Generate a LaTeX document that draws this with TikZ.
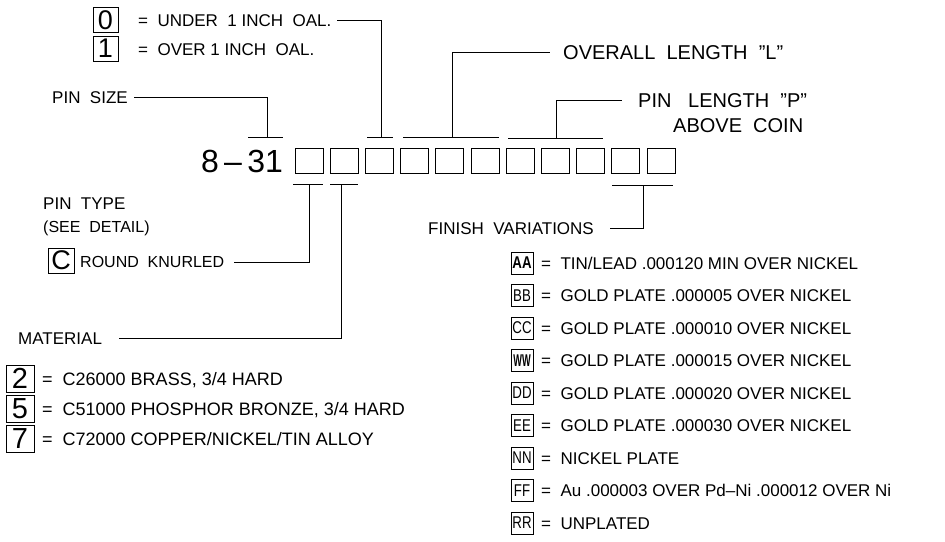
\documentclass[tikz,border=0pt]{standalone}
\usepackage{fontspec}
\setmainfont{Liberation Sans}
\usepackage{graphicx}
\newcommand{\fsz}[1]{\fontsize{#1}{#1}\selectfont}
\newcommand{\fcode}[1]{\scalebox{0.78}[1]{#1}}
\tikzset{
  lbl/.style={inner sep=0pt, anchor=west, text depth=0pt, font=\fsz{17}, text height=12.2pt},
  lblbig/.style={inner sep=0pt, anchor=west, text depth=0pt, font=\fsz{20}, text height=14.3pt},
  lblsm/.style={inner sep=0pt, anchor=west, text depth=0pt, font=\fsz{16}, text height=11.5pt},
  digbox/.style={draw, line width=1pt, minimum width=25pt, minimum height=25pt, inner sep=0pt, font=\fsz{27}},
  matbox/.style={draw, line width=1pt, minimum width=28pt, minimum height=27pt, inner sep=0pt, font=\fsz{29}},
  codebox/.style={draw, line width=1pt, minimum width=28pt, minimum height=25pt, inner sep=0pt},
  finbox/.style={draw, line width=0.9pt, minimum width=22pt, minimum height=22pt, inner sep=0pt, font=\fsz{17}},
  leader/.style={line width=0.8pt},
  bar/.style={line width=0.9pt}
}
\begin{document}
\begin{tikzpicture}[x=1pt,y=-1pt]
\useasboundingbox (0,0) rectangle (945,541);

% part number and code boxes
\node[inner sep=0pt, font=\fsz{32}] (pn) at (242,161.5) {8\,--\,31};
\foreach \i in {1,...,11} \node[codebox] (b\i) at ({309+35.2*(\i-1)},160.5) {};

% OAL legend
\node[digbox] (k0) at (105.5,20) {0};
\node[digbox] (k1) at (105.5,48.5) {1};
\node[lbl] (oal0) at (138,20) {=~~UNDER~~1 INCH~~OAL.};
\node[lbl] (oal1) at (138,49) {=~~OVER 1 INCH~~OAL.};

% pin size
\node[lbl] (psz) at (52,97) {PIN~~SIZE};
\coordinate (psA) at (248,137); \coordinate (psB) at (283,137); \coordinate (psM) at (267,137);
\draw[bar] (psA) -- (psB);
\draw[leader] (psM) |- ([xshift=6pt]psz.east);

% under/over leader
\coordinate (uA) at (367,137); \coordinate (uB) at (393,137); \coordinate (uM) at (381,137);
\draw[bar] (uA) -- (uB);
\draw[leader] (uM) |- ([xshift=5pt]oal0.east);

% overall length
\node[lblbig] (ol) at (563,52) {OVERALL~~LENGTH~~"L"};
\coordinate (oA) at (403,137); \coordinate (oB) at (499,137); \coordinate (oM) at (452,137);
\draw[bar] (oA) -- (oB);
\draw[leader] (oM) |- ([xshift=-13pt]ol.west);

% pin length
\node[lblbig] (pl) at (638,100) {PIN~~~LENGTH~~"P"};
\node[lblbig] (ac) at (673,125) {ABOVE~~COIN};
\coordinate (pA) at (508,138); \coordinate (pB) at (603,138); \coordinate (pM) at (556,138);
\draw[bar] (pA) -- (pB);
\draw[leader] (pM) |- ([xshift=-16pt]pl.west);

% pin type
\node[lbl] (pt) at (43,203) {PIN~~TYPE};
\node[lblsm] (sd) at (43,227) {(SEE~~DETAIL)};
\node[digbox, minimum width=26pt] (kc) at (61,260.5) {C};
\node[lblsm] (rk) at (80,262) {ROUND~~KNURLED};
\coordinate (cA) at (293,184); \coordinate (cB) at (323,184); \coordinate (cM) at (309,184);
\draw[bar] (cA) -- (cB);
\draw[leader] (cM) |- ([xshift=10pt]rk.east);

% material
\node[lbl] (mat) at (18,338) {MATERIAL};
\coordinate (mA) at (330,184); \coordinate (mB) at (358,184); \coordinate (mM) at (341,184);
\draw[bar] (mA) -- (mB);
\draw[leader] (mM) |- ([xshift=17pt]mat.east);
\node[matbox] (m2) at (20,378.5) {2};
\node[matbox] (m5) at (20,408.5) {5};
\node[matbox] (m7) at (20,439) {7};
\node[lbl, font=\fsz{18}] (t2) at (42,379) {=~~C26000 BRASS, 3/4 HARD};
\node[lbl, font=\fsz{18}] (t5) at (42,409) {=~~C51000 PHOSPHOR BRONZE, 3/4 HARD};
\node[lbl, font=\fsz{18}] (t7) at (42,439) {=~~C72000 COPPER/NICKEL/TIN ALLOY};

% finish variations
\node[lbl] (fv) at (428,228) {FINISH~~VARIATIONS};
\coordinate (fA) at (612,185); \coordinate (fB) at (673,185); \coordinate (fM) at (643,185);
\draw[bar] (fA) -- (fB);
\draw[leader] (fM) |- ([xshift=16pt]fv.east);

\node[finbox, font=\fsz{17}\bfseries] (fAA) at (522,263) {\fcode{AA}};
\node[finbox] (fBB) at (522,295.5) {\fcode{BB}};
\node[finbox] (fCC) at (522,328) {\fcode{CC}};
\node[finbox, font=\fsz{17}\bfseries] (fWW) at (522,360.5) {\scalebox{0.54}[1]{WW}};
\node[finbox] (fDD) at (522,393) {\fcode{DD}};
\node[finbox] (fEE) at (522,425.5) {\fcode{EE}};
\node[finbox] (fNN) at (522,458) {\fcode{NN}};
\node[finbox] (fFF) at (522,490.5) {\fcode{FF}};
\node[finbox] (fRR) at (522,523) {\fcode{RR}};
\node[lbl] (tAA) at (541,263) {=~~TIN/LEAD .000120 MIN OVER NICKEL};
\node[lbl] (tBB) at (541,295.5) {=~~GOLD PLATE .000005 OVER NICKEL};
\node[lbl] (tCC) at (541,328) {=~~GOLD PLATE .000010 OVER NICKEL};
\node[lbl] (tWW) at (541,360.5) {=~~GOLD PLATE .000015 OVER NICKEL};
\node[lbl] (tDD) at (541,393) {=~~GOLD PLATE .000020 OVER NICKEL};
\node[lbl] (tEE) at (541,425.5) {=~~GOLD PLATE .000030 OVER NICKEL};
\node[lbl] (tNN) at (541,458) {=~~NICKEL PLATE};
\node[lbl] (tFF) at (541,490.5) {=~~Au .000003 OVER Pd--Ni .000012 OVER Ni};
\node[lbl] (tRR) at (541,523) {=~~UNPLATED};
\end{tikzpicture}
\end{document}
